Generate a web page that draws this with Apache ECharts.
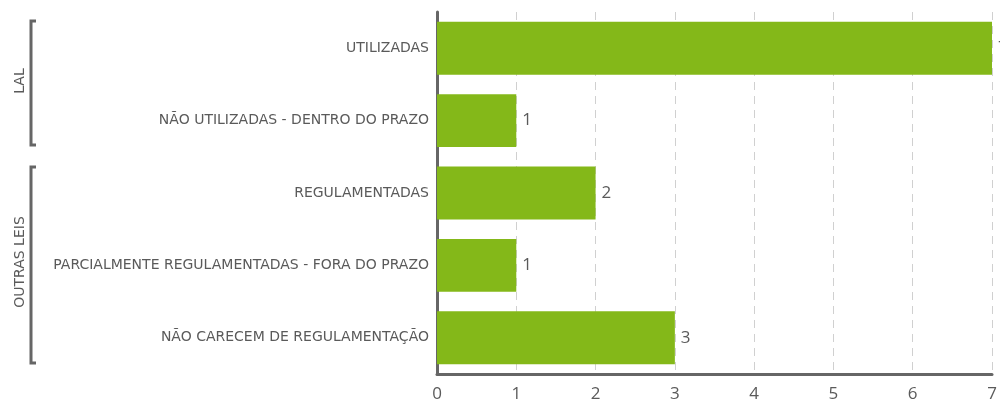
<!DOCTYPE html>
<html>
<head>
<meta charset="utf-8">
<script src="https://cdn.jsdelivr.net/npm/echarts@6/dist/echarts.min.js"></script>
<style>
    html, body { margin: 0; padding: 0; background: #fff; }
    #chart { width: 1000px; height: 403px; }
</style>
</head>
<body>
<div id="chart"></div>
<script>
var categories = [
    "UTILIZADAS",
    "NÃO UTILIZADAS - DENTRO DO PRAZO",
    "REGULAMENTADAS",
    "PARCIALMENTE REGULAMENTADAS - FORA DO PRAZO",
    "NÃO CARECEM DE REGULAMENTAÇÃO"
];
var values = [7, 1, 2, 1, 3];
var groups = ["LAL", "OUTRAS LEIS"];

var grey = "#5a5a5a";
var chart = echarts.init(document.getElementById("chart"));

// brackets drawn on the left, one per group
function bracket(x, y1, y2) {
    return {
        type: "polyline",
        shape: { points: [[x + 5, y1], [x, y1], [x, y2], [x + 5, y2]] },
        style: { stroke: "#666", lineWidth: 3, fill: null }
    };
}

var options = {
    animation: false,
    grid: { left: 437, right: 8, top: 12, bottom: 29 },
    xAxis: {
        type: "value",
        min: 0,
        max: 7,
        interval: 1,
        axisLine: { show: true, lineStyle: { color: "#666", width: 3 } },
        axisTick: { show: false },
        splitLine: { show: true, lineStyle: { color: "#d0d0d0", type: [8, 6], width: 1 } },
        axisLabel: { color: grey, fontSize: 17, fontFamily: "Open Sans", margin: 12 }
    },
    yAxis: {
        type: "category",
        inverse: true,
        data: categories,
        axisLine: { show: true, lineStyle: { color: "#666", width: 3 } },
        axisTick: { show: false },
        axisLabel: { color: grey, fontSize: 14, fontFamily: "DejaVu Sans", margin: 8 }
    },
    series: [
        {
            type: "bar",
            data: values,
            barWidth: "73%",
            itemStyle: { color: "#84b819" },
            label: {
                show: true,
                position: "right",
                distance: 6,
                color: grey,
                fontSize: 17,
                fontFamily: "Open Sans"
            }
        }
    ],
    graphic: [
        bracket(31, 21, 145),
        bracket(31, 167, 363),
        {
            type: "text",
            x: 20, y: 81,
            rotation: Math.PI / 2,
            style: { text: groups[0], fill: grey, font: "14px 'DejaVu Sans'", align: "center", verticalAlign: "middle" }
        },
        {
            type: "text",
            x: 20, y: 262,
            rotation: Math.PI / 2,
            style: { text: groups[1], fill: grey, font: "14px 'DejaVu Sans'", align: "center", verticalAlign: "middle" }
        }
    ]
};
chart.setOption(options, true);
</script>
</body>
</html>
